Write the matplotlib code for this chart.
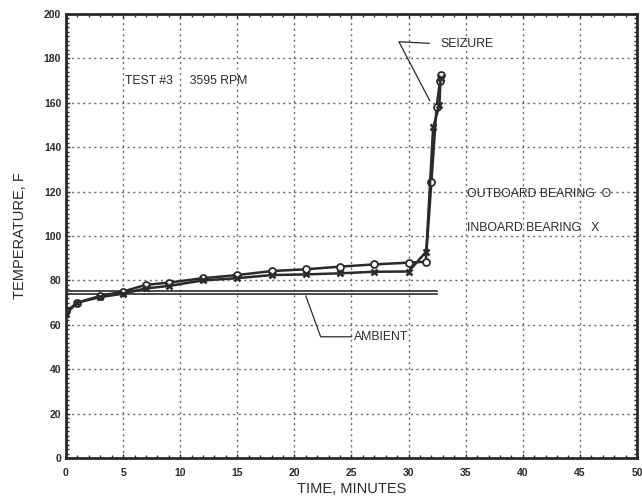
import numpy as np
import matplotlib
matplotlib.use('Agg')
from matplotlib import pyplot as plt
from matplotlib.ticker import MultipleLocator

# data
time_out = [0, 1, 3, 5, 7, 9, 12, 15, 18, 21, 24, 27, 30, 31.5, 32.0, 32.45, 32.75, 32.8]
temp_out = [66, 70, 73, 75, 78, 79, 81, 82.4, 84.2, 85, 86.2, 87.2, 88, 88.4, 124.5, 158, 170, 172.5]

time_in = [0, 1, 3, 5, 7, 9, 12, 15, 18, 21, 24, 27, 30, 31.55, 32.15, 32.7, 32.8]
temp_in = [65, 70, 72.5, 74, 76.4, 77.5, 80, 81, 82.4, 82.7, 83.2, 83.9, 84, 93, 149, 159, 171]

amb_time = [0, 32.5]
amb_hi = [75.2, 75.2]
amb_lo = [73.9, 73.9]

x_ticks = [0, 5, 10, 15, 20, 25, 30, 35, 40, 45, 50]
y_ticks = [0, 20, 40, 60, 80, 100, 120, 140, 160, 180, 200]

plt.rcParams['font.family'] = ['Liberation Sans', 'DejaVu Sans']

fig = plt.figure(figsize=(6.42, 4.98), dpi=100)
ax = fig.add_axes([0.1028, 0.0803, 0.8894, 0.8916])

ink = '#2a2a2a'

# ambient (double line)
ax.plot(amb_time, amb_hi, color=ink, lw=1.2)
ax.plot(amb_time, amb_lo, color=ink, lw=1.2)

# bearings
ax.plot(time_out, temp_out, color=ink, lw=1.8, marker='o', ms=5,
        mfc='white', mec=ink, mew=1.3)
ax.plot(time_in, temp_in, color=ink, lw=1.8, marker='x', ms=5,
        mec=ink, mew=1.8)

ax.set_xlim(0, 50)
ax.set_ylim(0, 200)
ax.set_xticks(x_ticks)
ax.set_yticks(y_ticks)
ax.xaxis.set_minor_locator(MultipleLocator(1))
ax.yaxis.set_minor_locator(MultipleLocator(2))
ax.tick_params(which='both', direction='in', top=True, right=True,
               color=ink, labelsize=7.5, labelcolor=ink)
ax.tick_params(which='major', length=3, width=1)
ax.tick_params(axis='x', which='major', pad=7)
ax.tick_params(which='minor', length=2.5, width=1)
for lbl in ax.get_xticklabels() + ax.get_yticklabels():
    lbl.set_fontweight('bold')
ax.grid(True, which='major', ls=(0, (1.5, 2.5)), color='#6a6a6a', lw=1)
for s in ax.spines.values():
    s.set_linewidth(2)
    s.set_color(ink)

ax.set_xlabel('TIME, MINUTES', fontsize=10.5, color=ink, labelpad=3)
ax.set_ylabel('TEMPERATURE, F', fontsize=10.5, color=ink, labelpad=12)

# annotations
fs = 8.8
ax.text(5.2, 170, 'TEST #3     3595 RPM', fontsize=fs, color=ink,
        va='center', ha='left')
ax.text(35.1, 119, 'OUTBOARD BEARING  O', fontsize=fs, color=ink,
        va='center', ha='left')
ax.text(35.1, 103.5, 'INBOARD BEARING   X', fontsize=fs, color=ink,
        va='center', ha='left')

ax.text(32.8, 186.7, 'SEIZURE', fontsize=fs, color=ink, va='center',
        ha='left')
ax.plot([31.8, 29.15, 31.85], [186.8, 187.5, 161], color=ink, lw=0.9)

ax.text(25.2, 54.3, 'AMBIENT', fontsize=fs, color=ink, va='center',
        ha='left')
ax.plot([21.0, 22.3, 25.0], [73.0, 54.6, 54.6], color=ink, lw=0.9)

fig.savefig('out.png', dpi=100)
